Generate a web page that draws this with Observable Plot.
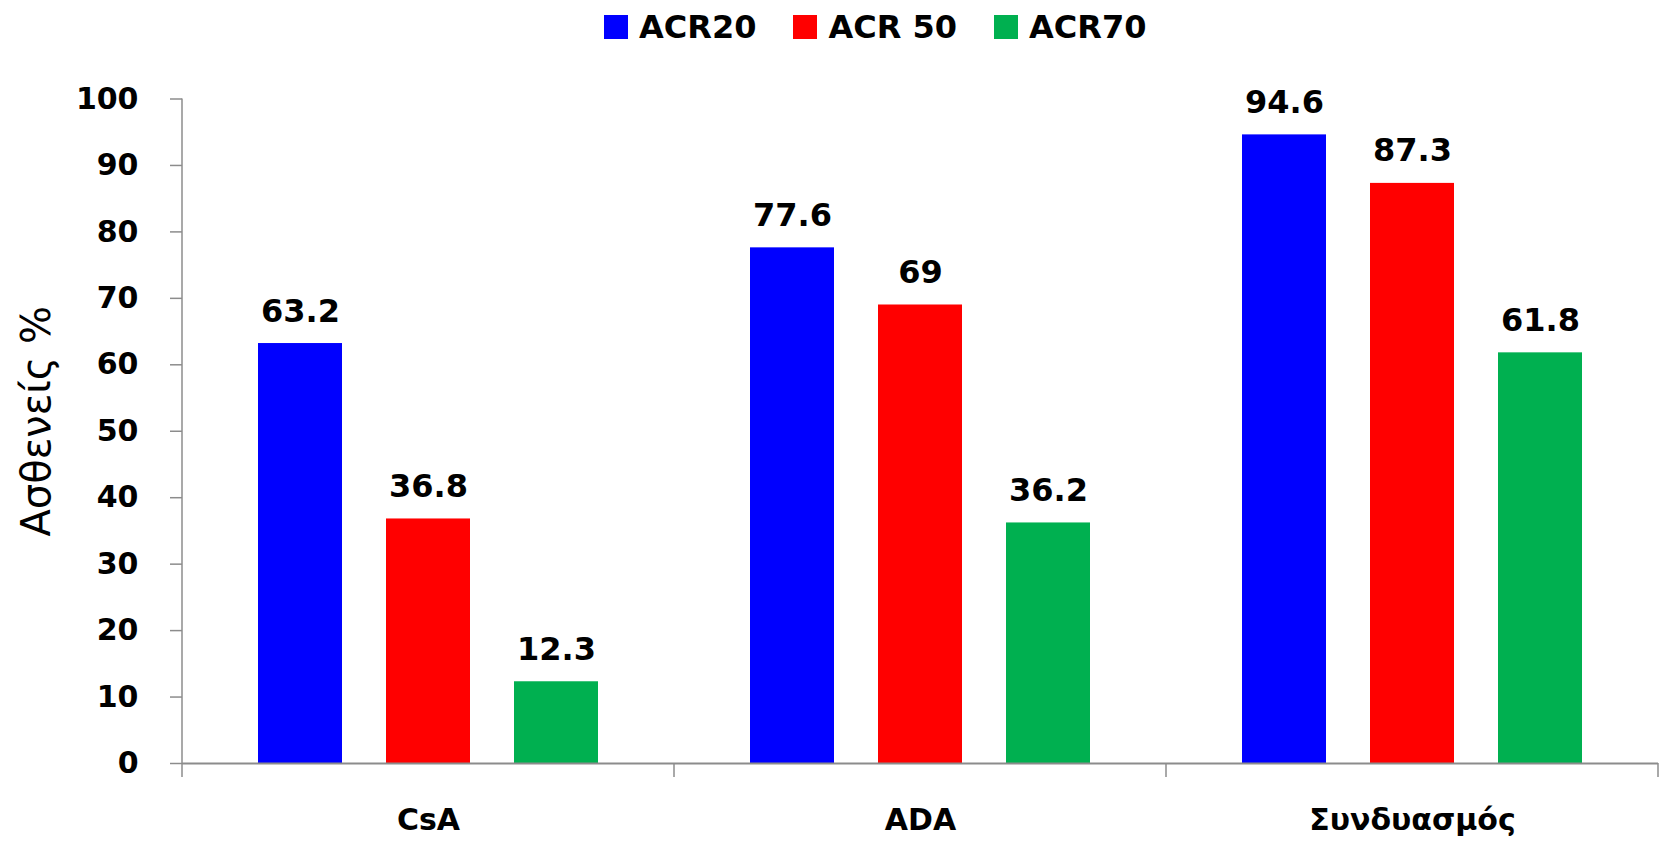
<!DOCTYPE html>
<html>
<head>
<meta charset="utf-8">
<script src="https://cdn.jsdelivr.net/npm/d3@7"></script>
<script src="https://cdn.jsdelivr.net/npm/@observablehq/plot@0.6"></script>
<style>
  html, body { margin: 0; padding: 0; background: #fff; }
  body { width: 1661px; height: 842px; overflow: hidden; font-family: "DejaVu Sans", sans-serif; }
  #legend { height: 50px; display: flex; align-items: center; padding-left: 604px; padding-top: 4px; box-sizing: border-box; }
  .item { display: flex; align-items: center; margin-right: 37px; }
  .sw { width: 24px; height: 24px; margin-right: 11px; }
  .lab { font-size: 32px; font-weight: bold; color: #000; }
</style>
</head>
<body>
<div id="legend"></div>
<div id="chart"></div>
<script>
// Treatment groups and response rates (% of patients)
const categories = ["CsA", "ADA", "Συνδυασμός"];
const series = ["ACR20", "ACR 50", "ACR70"];
const acr20 = [63.2, 77.6, 94.6];
const acr50 = [36.8, 69, 87.3];
const acr70 = [12.3, 36.2, 61.8];
const colors = ["#0000FF", "#FF0000", "#00B050"];
const yTicks = [0, 10, 20, 30, 40, 50, 60, 70, 80, 90, 100];
const yLabel = "Ασθενείς %";

const valuesBySeries = [acr20, acr50, acr70];
const data = [];
categories.forEach((c, i) => {
  series.forEach((s, j) => data.push({category: c, series: s, value: valuesBySeries[j][i]}));
});

// Legend row above the chart
const legend = d3.select("#legend");
series.forEach((s, j) => {
  const it = legend.append("div").attr("class", "item");
  it.append("div").attr("class", "sw").style("background", colors[j]);
  it.append("div").attr("class", "lab").text(s);
});

const axisGray = "#8c8c8c";

const plot = Plot.plot({
  width: 1661,
  height: 792,
  marginTop: 48.5,
  marginLeft: 182,
  marginRight: 3,
  marginBottom: 79,
  style: {fontFamily: "DejaVu Sans, sans-serif", color: "#000", background: "#fff", overflow: "visible"},
  fx: {domain: categories, padding: 0, label: null},
  x: {domain: series, paddingInner: 0.344, paddingOuter: 0.592, axis: null},
  y: {domain: [0, 100], label: null},
  color: {domain: series, range: colors},
  marks: [
    Plot.axisY({ticks: yTicks, tickSize: 12, tickPadding: 32, stroke: axisGray, strokeWidth: 1.5,
                fontSize: 30, fontWeight: "bold", label: null}),
    Plot.axisFx({anchor: "bottom", tickSize: 0, tickPadding: 45, fontSize: 30, fontWeight: "bold", label: null}),
    Plot.barY(data, {fx: "category", x: "series", y: "value", fill: "series"}),
    Plot.ruleY([0], {stroke: axisGray, strokeWidth: 2}),
    Plot.text(data, {fx: "category", x: "series", y: "value", text: d => String(d.value),
                     lineAnchor: "bottom", dy: -22, fontSize: 32, fontWeight: "bold", fill: "#000"}),
    Plot.text([{category: categories[0], label: yLabel}], {fx: "category", text: "label", frameAnchor: "left",
                     textAnchor: "middle", rotate: -90, dx: -145, dy: -10, fontSize: 40, fill: "#000"})
  ]
});

// Axis line and category boundary ticks, placed from the plot's own scales
const fxScale = plot.scale("fx");
const yScale = plot.scale("y");
const y0 = yScale.apply(0);
const y100 = yScale.apply(100);
const g = d3.select(plot).append("g").attr("stroke", axisGray).attr("stroke-width", 1.5);
const edges = categories.map(c => fxScale.apply(c));
edges.push(fxScale.apply(categories[categories.length - 1]) + fxScale.bandwidth);
g.append("line").attr("x1", edges[0]).attr("x2", edges[0]).attr("y1", y100).attr("y2", y0 + 14);
edges.slice(1).forEach(x => {
  g.append("line").attr("x1", x).attr("x2", x).attr("y1", y0).attr("y2", y0 + 14);
});

document.getElementById("chart").appendChild(plot);
</script>
</body>
</html>
